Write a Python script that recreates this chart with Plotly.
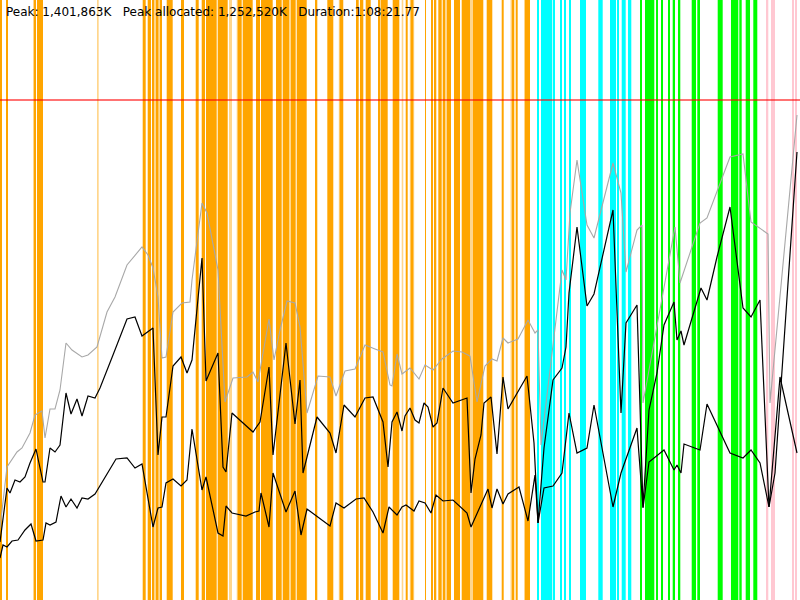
import plotly.graph_objects as go

# time axis (sample units) and memory height values
GRAY_T = [0, 7, 17, 22, 30, 35, 42, 45, 50, 55, 60, 66, 72, 82, 88, 97, 107, 115, 127, 142,
          148, 153, 158, 162, 166, 173, 182, 190, 192, 202, 207, 218, 225, 233, 247, 253, 258,
          269, 274, 280, 287, 295, 300, 307, 318, 330, 336, 345, 355, 365, 375, 383, 390, 392,
          397, 402, 410, 419, 425, 433, 442, 453, 462, 470, 477, 485, 492, 497, 503, 508, 518,
          528, 535, 538, 541, 562, 566, 570, 577, 587, 594, 613, 621, 626, 637, 642, 643, 675,
          680, 700, 707, 730, 743, 751, 768, 770, 797]
GRAY_V = [72, 133, 148, 152, 167, 185, 189, 162, 191, 191, 210, 257, 250, 243, 245, 253, 288,
          303, 335, 353, 345, 332, 303, 242, 243, 288, 297, 298, 320, 397, 387, 330, 198, 222,
          223, 228, 218, 281, 240, 270, 299, 297, 273, 187, 224, 223, 204, 229, 231, 255, 251,
          248, 215, 214, 246, 226, 232, 221, 235, 230, 241, 249, 248, 244, 198, 234, 241, 239,
          262, 257, 261, 280, 267, 270, 155, 330, 320, 387, 440, 375, 362, 437, 407, 328, 370,
          375, 197, 373, 317, 377, 382, 443, 446, 378, 366, 197, 485]

UPPER_T = [0, 7, 10, 15, 20, 25, 30, 36, 43, 45, 50, 55, 60, 66, 71, 77, 82, 88, 95, 100, 113,
           127, 135, 142, 153, 158, 162, 166, 173, 181, 187, 192, 202, 206, 218, 223, 226, 232,
           253, 260, 269, 273, 286, 295, 300, 303, 317, 330, 336, 344, 355, 365, 373, 383, 388,
           392, 397, 402, 405, 410, 415, 419, 424, 428, 433, 437, 443, 453, 467, 471, 475, 481,
           484, 491, 497, 503, 508, 527, 534, 538, 544, 553, 562, 566, 569, 577, 587, 594, 613,
           621, 626, 637, 643, 649, 657, 664, 674, 677, 681, 684, 701, 707, 717, 730, 743, 751,
           760, 769, 775, 797]
UPPER_V = [58, 112, 107, 120, 118, 123, 137, 151, 118, 118, 152, 148, 155, 207, 186, 201, 184,
           204, 202, 212, 245, 281, 283, 264, 272, 145, 183, 183, 234, 243, 227, 240, 342, 219,
           247, 133, 128, 187, 168, 178, 233, 145, 257, 176, 220, 127, 183, 167, 147, 195, 183,
           202, 203, 178, 133, 178, 188, 169, 184, 192, 180, 177, 197, 193, 173, 177, 212, 197,
           202, 107, 141, 165, 197, 203, 146, 223, 191, 224, 157, 77, 152, 220, 232, 253, 307,
           373, 294, 306, 390, 187, 277, 295, 93, 190, 227, 275, 298, 260, 269, 255, 312, 300,
           343, 393, 292, 283, 300, 93, 127, 448]

LOWER_T = [0, 3, 7, 12, 18, 25, 31, 36, 43, 46, 50, 56, 61, 66, 71, 77, 82, 88, 95, 108, 116,
           127, 135, 142, 153, 158, 162, 166, 173, 181, 187, 192, 202, 206, 218, 223, 226, 232,
           246, 255, 259, 261, 269, 273, 286, 295, 301, 307, 330, 336, 344, 356, 364, 373, 383,
           389, 397, 402, 406, 414, 419, 425, 431, 436, 443, 453, 467, 471, 475, 483, 488, 492,
           497, 503, 508, 519, 528, 535, 538, 544, 553, 562, 569, 577, 587, 594, 613, 621, 637,
           643, 649, 664, 674, 677, 681, 684, 700, 707, 730, 743, 751, 760, 769, 780, 797]
LOWER_V = [42, 55, 53, 59, 60, 70, 76, 59, 60, 77, 75, 78, 104, 93, 101, 92, 102, 101, 106,
           127, 141, 142, 132, 136, 73, 92, 93, 117, 121, 114, 120, 171, 110, 123, 67, 64, 94,
           87, 84, 88, 89, 107, 73, 127, 88, 109, 65, 91, 74, 97, 92, 101, 102, 88, 67, 93, 85,
           93, 95, 89, 99, 97, 87, 105, 99, 100, 87, 73, 82, 101, 111, 92, 111, 96, 106, 113,
           79, 125, 77, 112, 114, 127, 187, 147, 152, 195, 93, 127, 172, 92, 138, 150, 130, 135,
           127, 156, 150, 196, 147, 142, 150, 137, 93, 223, 147]

LIMIT = 500

# event spans (start, end) per phase
ORANGE = [(0, 2), (6, 8), (34, 36), (37, 43), (142.7, 145.7), (147.7, 151), (152.7, 154),
          (156, 158.5), (160, 161.7), (166.7, 172.7), (181, 184), (196, 198.7), (201.7, 205),
          (206, 216.7), (217.7, 227.7), (237.5, 241.7), (242.7, 252.7), (256, 260), (261, 272.7),
          (276, 281.7), (282.7, 289), (291, 295.7), (296.7, 306.7), (315, 317.3), (327.3, 333.3),
          (339.5, 343), (356, 358.7), (360, 363.3), (365.7, 370.7), (378.3, 380), (381, 387.7),
          (392.7, 399.3), (405.7, 407.7), (410.5, 413.5), (425, 426), (431.7, 432.7),
          (434.7, 436.3), (438.3, 441.7), (442.7, 445), (447, 451), (454, 460), (461.7, 470),
          (473, 483.3), (486.7, 492.3), (501.7, 503.7), (511.7, 514.3), (515.7, 517.7), (525, 530)]
ORANGE_LIGHT = [(33, 34), (97, 98.7), (154, 156), (158.5, 160), (195.3, 196), (229, 232),
                (236.7, 237.5), (289, 291), (338.8, 339.5), (343, 343.6), (380, 381),
                (401.7, 403.3), (409.8, 410.5), (413.5, 414.2), (445, 447), (470, 473),
                (510.5, 511.7), (524, 525)]
CYAN = [(537.3, 538.7), (541, 552.3), (553.3, 554.3), (560, 561.7), (564, 566), (569.3, 571),
        (580, 586), (598.3, 602.7), (610, 616), (617.7, 619), (621.7, 625.7), (628, 631.3)]
GREEN = [(640.5, 641.5), (645, 654.3), (656, 657.5), (661, 662.7), (668.3, 670), (672.7, 675),
         (678.7, 680.3), (691.7, 696), (697.3, 700), (717.7, 722.7), (731, 738.3),
         (739.3, 741.7), (745.7, 750), (753.3, 757.3)]
PINK = [(766.7, 768.3), (771, 775), (792.7, 794), (795, 796.7)]

TITLE = 'Peak: 1,401,863K   Peak allocated: 1,252,520K   Duration:1:08:21.77'


def span_bars(spans, color):
    return go.Bar(
        x=[(a + b) / 2 for a, b in spans],
        y=[600] * len(spans),
        width=[b - a for a, b in spans],
        marker=dict(color=color, line_width=0),
        hoverinfo='skip',
        showlegend=False,
    )


def make_plot():
    fig = go.Figure()
    fig.add_trace(span_bars(ORANGE, '#ffa500'))
    fig.add_trace(span_bars(ORANGE_LIGHT, 'rgba(255,165,0,0.45)'))
    fig.add_trace(span_bars(CYAN, '#00ffff'))
    fig.add_trace(span_bars(GREEN, '#00ff00'))
    fig.add_trace(span_bars(PINK, '#ffc8d2'))

    fig.add_trace(go.Scatter(x=GRAY_T, y=GRAY_V, mode='lines',
                             line=dict(color='#a8a8a8', width=1.1), showlegend=False))
    fig.add_trace(go.Scatter(x=UPPER_T, y=UPPER_V, mode='lines',
                             line=dict(color='black', width=1.2), showlegend=False))
    fig.add_trace(go.Scatter(x=LOWER_T, y=LOWER_V, mode='lines',
                             line=dict(color='black', width=1.2), showlegend=False))
    fig.add_trace(go.Scatter(x=[0, 800], y=[LIMIT, LIMIT], mode='lines',
                             line=dict(color='rgba(255,0,0,0.55)', width=2), showlegend=False))

    fig.add_annotation(text=TITLE, xref='paper', yref='paper', x=0, y=1,
                       xanchor='left', yanchor='top', xshift=4, yshift=-3,
                       showarrow=False, font=dict(family='DejaVu Sans', size=12, color='black'))

    fig.update_layout(
        width=800, height=600,
        margin=dict(l=0, r=0, t=0, b=0),
        paper_bgcolor='white', plot_bgcolor='white',
        barmode='overlay',
        hovermode=False,
        xaxis=dict(range=[0, 800], visible=False, showgrid=False),
        yaxis=dict(range=[0, 600], visible=False, showgrid=False),
    )
    return fig


def main():
    fig = make_plot()
    # drop the page's default body margin so the figure sits at 0,0
    fig.write_html('out.html', config={'displayModeBar': False},
                   post_script="document.body.style.margin='0';")


if __name__ == '__main__':
    main()
